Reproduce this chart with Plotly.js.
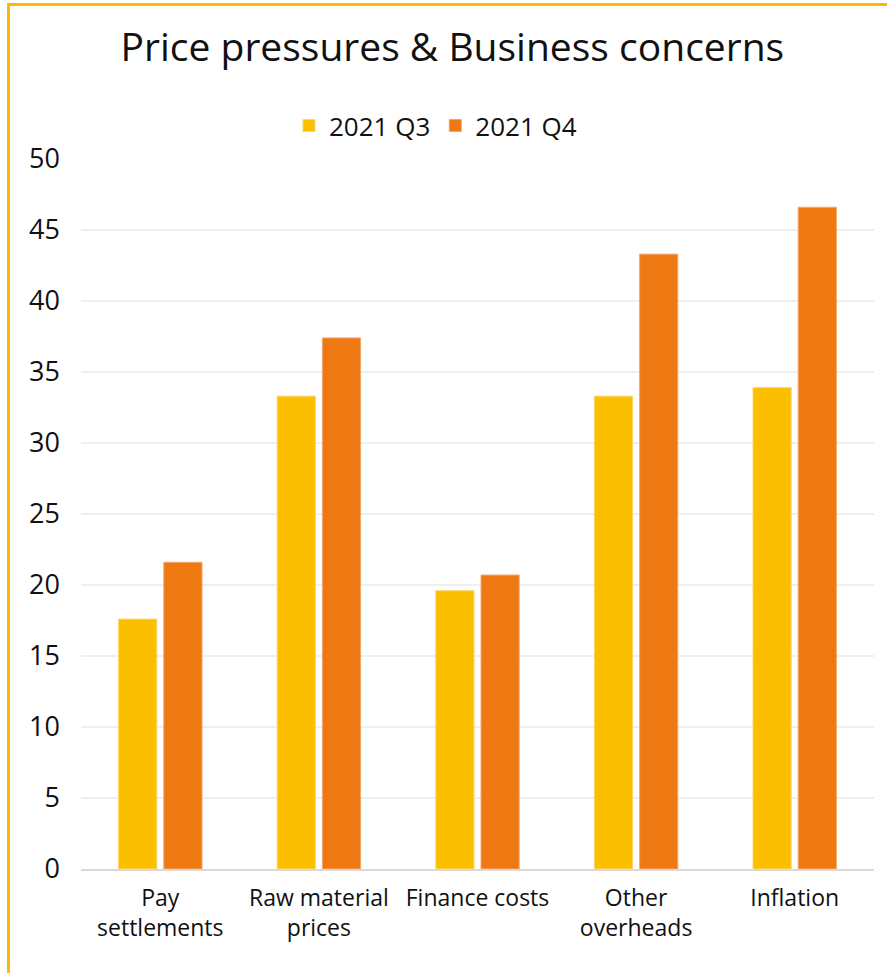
<!DOCTYPE html>
<html>
<head>
<meta charset="utf-8">
<script src="https://cdn.plot.ly/plotly-3.0.1.min.js"></script>
<style>
  html, body { margin: 0; padding: 0; background: #fff; }
  #wrap { position: relative; width: 887px; height: 973px; }
  #chart { width: 887px; height: 973px; }
  #bt { position: absolute; left: 7px; top: 3px; right: 0; height: 3px; background: #FBBA00; }
  #bl { position: absolute; left: 7px; top: 3px; bottom: 0; width: 3px; background: #FBBA00; }
</style>
</head>
<body>
<div id="wrap">
  <div id="chart"></div>
  <div id="bt"></div>
  <div id="bl"></div>
</div>
<script>
const categories = ["Pay<br>settlements", "Raw material<br>prices", "Finance costs", "Other<br>overheads", "Inflation"];
const seriesNames = ["2021 Q3", "2021 Q4"];
const q3Values = [17.6, 33.3, 19.6, 33.3, 33.9];
const q4Values = [21.6, 37.4, 20.7, 43.3, 46.6];
const yTicks = [0, 5, 10, 15, 20, 25, 30, 35, 40, 45, 50];

const FONT = "'Open Sans', sans-serif";
const traces = [
  { type: "bar", name: seriesNames[0], x: categories, y: q3Values,
    marker: { color: "#FBBF00", line: { color: "#FCD66A", width: 1 } } },
  { type: "bar", name: seriesNames[1], x: categories, y: q4Values,
    marker: { color: "#EE7913", line: { color: "#F4A669", width: 1 } } }
];

const layout = {
  width: 887, height: 973,
  paper_bgcolor: "#fff", plot_bgcolor: "#fff",
  font: { family: FONT, color: "#1a1a1a" },
  title: { text: "Price pressures & Business concerns", x: 0.51, xanchor: "center", y: 0.951, yanchor: "middle",
           font: { family: FONT, size: 39, color: "#111" } },
  showlegend: true,
  legend: { orientation: "h", x: 0.447, xanchor: "center", y: 1.047, yanchor: "middle",
            font: { family: FONT, size: 26, color: "#111" }, itemwidth: 30, traceorder: "normal" },
  barmode: "group", bargap: 0.43, bargroupgap: 0.155,
  margin: { l: 81, r: 13, t: 159, b: 104 },
  xaxis: { type: "category", showgrid: false, showline: true, linecolor: "#d9d9d9", linewidth: 2,
           ticks: "", tickfont: { family: FONT, size: 23, color: "#111" }, ticklabelstandoff: 7 },
  yaxis: { range: [0, 50], tickvals: yTicks, ticktext: yTicks.map(String), showgrid: true, gridcolor: "#efefef", gridwidth: 2,
           zeroline: false, showline: false, ticks: "", tickfont: { family: FONT, size: 27, color: "#111" },
           ticklabelstandoff: 20 }
};

Plotly.newPlot("chart", traces, layout, { displayModeBar: false, staticPlot: true });
</script>
</body>
</html>
